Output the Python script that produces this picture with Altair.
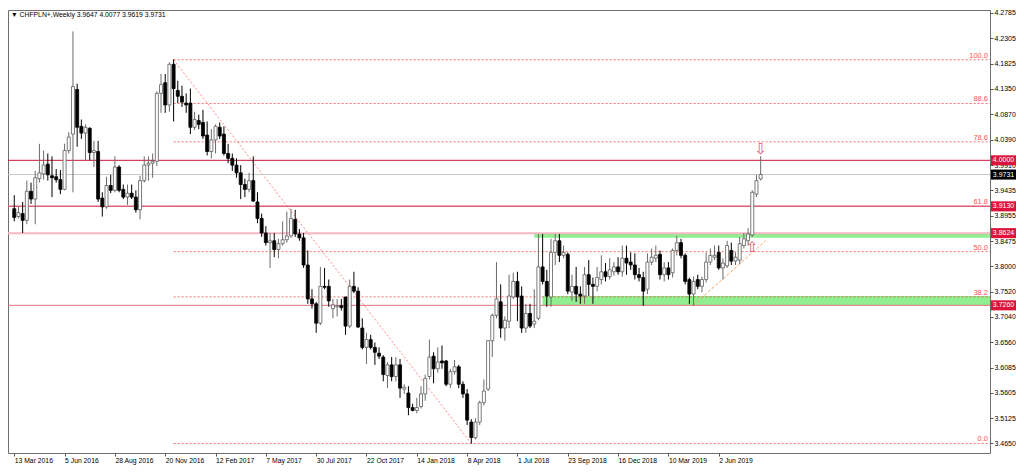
import altair as alt
import pandas as pd

FONT = "Liberation Sans"
W, H = 982, 443

title_text = "\u25bc CHFPLN+,Weekly  3.9647 4.0077 3.9619 3.9731"

date_labels = ["13 Mar 2016", "5 Jun 2016", "28 Aug 2016", "20 Nov 2016", "12 Feb 2017",
               "7 May 2017", "30 Jul 2017", "22 Oct 2017", "14 Jan 2018", "8 Apr 2018",
               "1 Jul 2018", "23 Sep 2018", "16 Dec 2018", "10 Mar 2019", "2 Jun 2019"]
date_bars = [0, 12, 24, 36, 48, 60, 72, 84, 96, 108, 120, 132, 144, 156, 168]

price_ticks = [4.2785, 4.2305, 4.1825, 4.1350, 4.0870, 4.0390, 3.9910, 3.9435, 3.8955,
               3.8475, 3.8000, 3.7520, 3.7040, 3.6560, 3.6085, 3.5605, 3.5125, 3.4650]

opens = [
    3.9085, 3.8938, 3.8993, 3.8865, 3.9415, 3.9268, 3.9653, 3.9744, 3.9927, 3.9708,
    3.9689, 3.9634, 3.9451, 4.0184, 4.0495, 4.1338, 4.0642, 4.0514, 4.0605, 4.0147,
    4.0166, 3.9286, 3.9121, 3.9524, 3.9433, 3.9873, 3.9451, 3.9305, 3.9378, 3.9305,
    3.9066, 3.9616, 3.9909, 3.9946, 3.9982, 4.1265, 4.1466, 4.1045, 4.1814, 4.1320,
    4.1210, 4.1082, 4.1082, 4.0624, 4.0752, 4.0715, 4.0477, 4.0166, 4.0385, 4.0624,
    4.0495, 4.0129, 4.0037, 3.9909, 3.9763, 3.9543, 3.9451, 3.9616, 3.9213, 3.8902,
    3.8627, 3.8444, 3.8480, 3.8315, 3.8425, 3.8499, 3.8572, 3.8883, 3.8608, 3.8535,
    3.8022, 3.7381, 3.7289, 3.6923, 3.7619, 3.7619, 3.7198, 3.7234, 3.7253, 3.7418,
    3.6868, 3.7619, 3.7528, 3.6831, 3.6465, 3.6612, 3.6465, 3.6355, 3.6282, 3.5934,
    3.6135, 3.5915, 3.6135, 3.5677, 3.5604, 3.5329, 3.5274, 3.5347, 3.5586, 3.5915,
    3.6300, 3.6062, 3.6209, 3.6209, 3.5769, 3.6007, 3.6099, 3.5769, 3.5586, 3.5054,
    3.4761, 3.5054, 3.5421, 3.5677, 3.6593, 3.7070, 3.7326, 3.6831, 3.6960, 3.7418,
    3.7711, 3.7436, 3.6831, 3.7106, 3.6905, 3.7015, 3.7986, 3.7711, 3.7418, 3.8260,
    3.8480, 3.8205, 3.8224, 3.7509, 3.7619, 3.7473, 3.7436, 3.7839, 3.7656, 3.7619,
    3.7747, 3.7894, 3.7802, 3.7894, 3.7986, 3.7894, 3.8150, 3.8077, 3.8022, 3.7839,
    3.7784, 3.7564, 3.8077, 3.8150, 3.8224, 3.7839, 3.7967, 3.7876, 3.8297, 3.8444,
    3.8205, 3.7747, 3.7473, 3.7747, 3.7619, 3.7747, 3.8077, 3.8169, 3.8260, 3.7967,
    3.8004, 3.8297, 3.8095, 3.8114, 3.8389, 3.8480, 3.8590, 3.9360, 3.9647]

highs = [
    3.9341, 3.9121, 3.9213, 3.9616, 3.9579, 3.9799, 4.0312, 4.0184, 4.0129, 4.0074,
    3.9836, 3.9818, 4.0312, 4.0532, 4.2437, 4.1448, 4.0770, 4.0679, 4.0624, 4.0367,
    4.0367, 3.9396, 3.9689, 3.9726, 4.0074, 3.9909, 3.9543, 3.9543, 3.9543, 3.9433,
    3.9708, 4.0074, 4.0074, 4.0129, 4.1301, 4.1631, 4.1631, 4.1851, 4.1906, 4.1503,
    4.1411, 4.1265, 4.1356, 4.0917, 4.0862, 4.0953, 4.0734, 4.0587, 4.0679, 4.0715,
    4.0642, 4.0312, 4.0129, 4.0037, 3.9909, 3.9653, 3.9763, 4.0074, 3.9396, 3.8993,
    3.8755, 3.8627, 3.8627, 3.8517, 3.8847, 3.9030, 3.9085, 3.9066, 3.8700, 3.8627,
    3.8297, 3.7564, 3.7326, 3.7986, 3.7967, 3.7747, 3.7381, 3.7381, 3.7381, 3.7418,
    3.7747, 3.7894, 3.7601, 3.7015, 3.6740, 3.6703, 3.6557, 3.6465, 3.6318, 3.6190,
    3.6282, 3.6282, 3.6245, 3.5769, 3.5732, 3.5402, 3.5512, 3.5732, 3.5952, 3.6612,
    3.6373, 3.6465, 3.6502, 3.6227, 3.6062, 3.6227, 3.6135, 3.5824, 3.5677, 3.5109,
    3.5128, 3.5457, 3.5860, 3.6593, 3.7106, 3.8077, 3.7656, 3.7051, 3.7839, 3.7876,
    3.7894, 3.7619, 3.7289, 3.7289, 3.7564, 3.8608, 3.8608, 3.7931, 3.8517, 3.8608,
    3.8608, 3.8389, 3.8260, 3.7839, 3.7986, 3.7619, 3.7986, 3.8114, 3.7784, 3.7986,
    3.8205, 3.8059, 3.8150, 3.8077, 3.8169, 3.8389, 3.8389, 3.8260, 3.8242, 3.7967,
    3.7894, 3.8242, 3.8334, 3.8389, 3.8297, 3.8077, 3.8077, 3.8334, 3.8572, 3.8517,
    3.8242, 3.7784, 3.7802, 3.7839, 3.7802, 3.8260, 3.8334, 3.8389, 3.8389, 3.8150,
    3.8480, 3.8444, 3.8260, 3.8553, 3.8627, 3.8718, 3.9433, 3.9726, 4.0077]

lows = [
    3.8847, 3.8902, 3.8627, 3.8792, 3.9176, 3.8792, 3.9579, 3.9634, 3.9616, 3.9305,
    3.9579, 3.9360, 3.9433, 4.0129, 3.9396, 4.0257, 4.0404, 4.0001, 4.0001, 3.9873,
    3.9213, 3.8938, 3.9085, 3.9378, 3.9396, 3.9396, 3.9268, 3.9158, 3.9268, 3.9011,
    3.8883, 3.9579, 3.9616, 3.9671, 3.9891, 4.0898, 4.0898, 4.0917, 4.0734, 4.1082,
    4.1008, 4.0898, 4.0495, 4.0569, 4.0587, 4.0404, 4.0092, 4.0037, 4.0129, 4.0404,
    4.0092, 3.9946, 3.9799, 3.9671, 3.9268, 3.9305, 3.9396, 3.9213, 3.8810, 3.8553,
    3.8389, 3.7967, 3.8169, 3.8150, 3.8389, 3.8444, 3.8535, 3.8553, 3.8480, 3.7967,
    3.7289, 3.7198, 3.6740, 3.6886, 3.7564, 3.7234, 3.7015, 3.7051, 3.7161, 3.6703,
    3.6831, 3.7491, 3.6831, 3.6428, 3.6154, 3.6428, 3.6135, 3.6245, 3.5824, 3.5696,
    3.5824, 3.5824, 3.5512, 3.5586, 3.5183, 3.5256, 3.5219, 3.5311, 3.5457, 3.5860,
    3.5787, 3.5989, 3.6062, 3.5732, 3.5696, 3.5952, 3.5696, 3.5512, 3.4999, 3.4651,
    3.4725, 3.4999, 3.5366, 3.5641, 3.6282, 3.7015, 3.6648, 3.6593, 3.6831, 3.7381,
    3.6960, 3.6740, 3.6740, 3.6831, 3.6831, 3.6978, 3.7656, 3.7234, 3.7234, 3.8022,
    3.8077, 3.8150, 3.7473, 3.7344, 3.7326, 3.7289, 3.7289, 3.7436, 3.7289, 3.7528,
    3.7656, 3.7711, 3.7747, 3.7821, 3.7839, 3.7802, 3.7839, 3.7931, 3.7747, 3.7711,
    3.7253, 3.7473, 3.8022, 3.8077, 3.7747, 3.7711, 3.7747, 3.7784, 3.8205, 3.8150,
    3.7656, 3.7289, 3.7253, 3.7564, 3.7509, 3.7692, 3.8022, 3.8114, 3.7931, 3.7747,
    3.7967, 3.8022, 3.8022, 3.8041, 3.8334, 3.8389, 3.8553, 3.9305, 3.9619]

closes = [
    3.8920, 3.9011, 3.8865, 3.9415, 3.9268, 3.9671, 3.9763, 3.9909, 3.9726, 3.9671,
    3.9634, 3.9451, 4.0184, 4.0440, 4.1393, 4.0624, 4.0514, 4.0624, 4.0147, 4.0184,
    3.9268, 3.9121, 3.9524, 3.9433, 3.9873, 3.9433, 3.9305, 3.9378, 3.9305, 3.9066,
    3.9616, 3.9909, 3.9946, 3.9982, 4.1265, 4.1430, 4.1045, 4.1814, 4.1356, 4.1210,
    4.1100, 4.1045, 4.0624, 4.0770, 4.0679, 4.0459, 4.0166, 4.0385, 4.0642, 4.0459,
    4.0129, 4.0037, 3.9909, 3.9763, 3.9543, 3.9451, 3.9616, 3.9231, 3.8902, 3.8627,
    3.8444, 3.8480, 3.8315, 3.8425, 3.8499, 3.8572, 3.8902, 3.8608, 3.8535, 3.8022,
    3.7381, 3.7289, 3.6923, 3.7619, 3.7601, 3.7344, 3.7271, 3.7253, 3.7216, 3.6868,
    3.7619, 3.7528, 3.6850, 3.6465, 3.6612, 3.6465, 3.6373, 3.6300, 3.5952, 3.6135,
    3.5915, 3.6135, 3.5696, 3.5714, 3.5329, 3.5274, 3.5329, 3.5586, 3.5879, 3.6282,
    3.6062, 3.6190, 3.6172, 3.5769, 3.6007, 3.6099, 3.5769, 3.5586, 3.5091, 3.4761,
    3.5054, 3.5421, 3.5641, 3.6593, 3.7070, 3.7381, 3.6831, 3.6978, 3.7436, 3.7711,
    3.7418, 3.6831, 3.7106, 3.6868, 3.6960, 3.7986, 3.7711, 3.7436, 3.8260, 3.8480,
    3.8205, 3.8260, 3.7528, 3.7619, 3.7473, 3.7436, 3.7839, 3.7656, 3.7619, 3.7784,
    3.7894, 3.7802, 3.7931, 3.7986, 3.7894, 3.8150, 3.8059, 3.8022, 3.7839, 3.7784,
    3.7528, 3.8077, 3.8169, 3.8205, 3.7839, 3.7967, 3.7839, 3.8297, 3.8444, 3.8205,
    3.7711, 3.7473, 3.7711, 3.7619, 3.7747, 3.8077, 3.8205, 3.8205, 3.7967, 3.8059,
    3.8389, 3.8095, 3.8169, 3.8425, 3.8517, 3.8608, 3.9396, 3.9616, 3.9731]

# Fibonacci retracement (from the Nov 2016 high to the Apr 2018 low)
fib_high = 4.1900
fib_low = 3.4650
fib_start_bar = 38
fib_end_bar = 109
fib_ratios = [0.0, 38.2, 50.0, 61.8, 78.6, 88.6, 100.0]

# horizontal levels
level_prices = [4.0000, 3.9731, 3.9130, 3.8624, 3.7260]
level_colors = ["#c8143c", "#c8c8c8", "#e0607a", "#f5b5c3", "#e0707e"]
level_widths = [1.0, 1.0, 1.5, 2.0, 1.0]
level_box = ["#dc143c", "#000000", "#dc143c", "#dc143c", "#dc143c"]

# support / resistance zones
zone_start_bars = [124, 126]
zone_tops = [3.8624, 3.7436]
zone_bottoms = [3.8535, 3.7260]

# rising trend line
trend_bars = [161.9, 179.2]
trend_prices = [3.7260, 3.8480]

# arrows
arrow_bars = [178, 176]
arrow_prices = [4.0205, 3.8370]
arrow_glyphs = ["\u21e9", "\u21e7"]

# ------------------------------------------------------------------
n = len(closes)
candles = pd.DataFrame({"bar": list(range(n)), "open": opens, "high": highs,
                        "low": lows, "close": closes})
candles["up"] = candles["close"] >= candles["open"]

xs = alt.Scale(domain=[-0.3, 231.5], nice=False, zero=False)
ys = alt.Scale(domain=[3.447, 4.284], nice=False, zero=False)

label_expr = "[" + ",".join("'%s'" % d for d in date_labels) + "][round(datum.value / 12)]"
x_axis = alt.Axis(values=date_bars, labelExpr=label_expr, labelAlign="left",
                  labelBaseline="top", labelFont=FONT, labelFontSize=6.8,
                  labelColor="#000000", tickSize=3, tickColor="#555555",
                  domain=False, grid=False, title=None, labelPadding=1,
                  labelOverlap=False, labelFlush=False, orient="bottom")
y_axis = alt.Axis(orient="right", values=price_ticks, format=".4f", labelFont=FONT,
                  labelFontSize=7, labelColor="#000000", tickSize=3,
                  tickColor="#555555", domain=False, grid=False, title=None,
                  labelPadding=1, labelOverlap=False, labelFlush=False)


def X(field):
    return alt.X(field, type="quantitative", scale=xs, axis=x_axis, title=None)


def Y(field):
    return alt.Y(field, type="quantitative", scale=ys, axis=y_axis, title=None)


zones = pd.DataFrame({"start": zone_start_bars, "top": zone_tops, "bottom": zone_bottoms})
zone_layer = alt.Chart(zones).mark_rect(color="#90ee90").encode(
    x=X("start"), x2=alt.value(W), y=Y("top"), y2=alt.Y2("bottom"))

fib = pd.DataFrame({"ratio": fib_ratios})
fib["price"] = fib_low + fib["ratio"] / 100.0 * (fib_high - fib_low)
fib["label"] = fib["ratio"].map(lambda r: "%.1f" % r)
fib["start"] = fib_start_bar
fib_lines = alt.Chart(fib).mark_rule(color="#ff3b3b", strokeDash=[2, 2],
                                     strokeWidth=1, opacity=0.75).encode(
    x=X("start"), x2=alt.value(W), y=Y("price"))
fib_text = alt.Chart(fib).mark_text(align="right", baseline="bottom", color="#ff5252",
                                    font=FONT, fontSize=7.5).encode(
    x=alt.value(W - 2), y=Y("price"), text="label:N")

diag = pd.DataFrame({"b1": [fib_start_bar], "p1": [fib_high],
                     "b2": [fib_end_bar], "p2": [fib_low]})
diag_layer = alt.Chart(diag).mark_rule(color="#ff3b3b", strokeDash=[2, 2],
                                       strokeWidth=1, opacity=0.6).encode(
    x=X("b1"), x2=alt.X2("b2"), y=Y("p1"), y2=alt.Y2("p2"))

levels = pd.DataFrame({"price": level_prices, "color": level_colors,
                       "width": level_widths, "box": level_box})
level_lines = alt.Chart(levels).mark_rule().encode(
    x=alt.value(0), x2=alt.value(W), y=Y("price"),
    color=alt.Color("color:N", scale=None),
    strokeWidth=alt.StrokeWidth("width:Q", scale=None))

trend = pd.DataFrame({"b1": [trend_bars[0]], "p1": [trend_prices[0]],
                      "b2": [trend_bars[1]], "p2": [trend_prices[1]]})
trend_layer = alt.Chart(trend).mark_rule(color="#f4a460", strokeDash=[3, 2],
                                         strokeWidth=1).encode(
    x=X("b1"), x2=alt.X2("b2"), y=Y("p1"), y2=alt.Y2("p2"))

base = alt.Chart(candles)
wicks = base.mark_rule(strokeWidth=1).encode(
    x=X("bar"), y=Y("low"), y2=alt.Y2("high"),
    color=alt.condition("datum.up", alt.value("#6b6b6b"), alt.value("#000000")))
bodies = base.mark_bar(size=3, strokeWidth=0.8).encode(
    x=X("bar"), y=Y("open"), y2=alt.Y2("close"),
    fill=alt.condition("datum.up", alt.value("#ffffff"), alt.value("#000000")),
    stroke=alt.condition("datum.up", alt.value("#5a5a5a"), alt.value("#000000")))

arrows = pd.DataFrame({"bar": arrow_bars, "price": arrow_prices, "glyph": arrow_glyphs})
arrow_layer = alt.Chart(arrows).mark_text(color="#e8506a", font="DejaVu Sans",
                                          fontSize=15, baseline="middle").encode(
    x=X("bar"), y=Y("price"), text="glyph:N")

boxes = alt.Chart(levels).transform_calculate(
    lo="datum.price - 0.0095", hi="datum.price + 0.0095"
).mark_rect().encode(
    x=alt.value(W + 1), x2=alt.value(W + 26), y=Y("lo:Q"), y2=alt.Y2("hi:Q"),
    color=alt.Color("box:N", scale=None))
box_text = alt.Chart(levels).mark_text(color="#ffffff", font=FONT, fontSize=7,
                                       align="center", baseline="middle").encode(
    x=alt.value(W + 13.5), y=Y("price"), text=alt.Text("price:Q", format=".4f"))

title_layer = alt.Chart(pd.DataFrame({"t": [title_text]})).mark_text(
    align="left", baseline="middle", font=FONT, fontSize=6.8, color="#000000"
).encode(x=alt.value(3), y=alt.value(5), text="t:N")

chart = alt.layer(
    zone_layer, fib_lines, diag_layer, level_lines, trend_layer,
    wicks, bodies, arrow_layer, fib_text, boxes, box_text, title_layer
).properties(
    width=W, height=H,
    autosize=alt.AutoSizeParams(type="none"),
    padding={"left": 0, "top": 2, "right": 26, "bottom": 13},
    background="#ffffff",
).configure_view(stroke="#6e6e6e", strokeWidth=1)

chart.save("out.html", embed_options={"renderer": "svg", "actions": False})
